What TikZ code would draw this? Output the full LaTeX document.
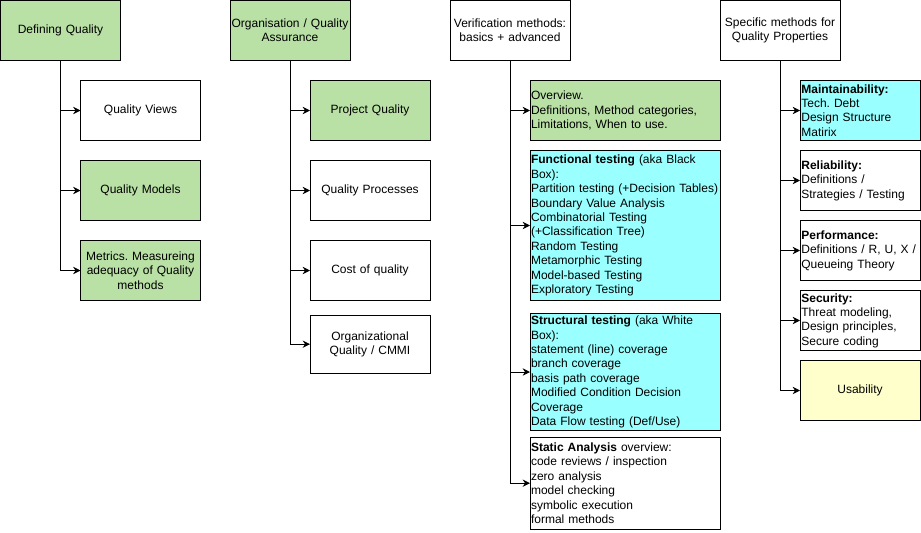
\documentclass[tikz,border=0pt]{standalone}
\usepackage{fontspec}
\setmainfont{Liberation Sans}
\usepackage{xcolor}
\usepackage{tikz}
\usetikzlibrary{arrows.meta,positioning}

\definecolor{qgreen}{HTML}{B9E0A5}
\definecolor{qcyan}{HTML}{99FFFF}
\definecolor{qyellow}{HTML}{FFFFCC}

\begin{document}
\frenchspacing
\hyphenpenalty=10000
\exhyphenpenalty=10000
\begin{tikzpicture}[x=0.75pt, y=-0.75pt,
                every node/.style={font=\fontsize{9pt}{10.8pt}\selectfont},
                box/.style={draw, line width=0.75pt, outer sep=0pt, align=center, inner xsep=1pt, inner ysep=1pt, fill=white, text width=88pt, minimum width=90pt, minimum height=45pt},
                topic/.style={box, anchor=north west},
                wide/.style={box, align=left, inner xsep=0.75pt, inner ysep=0.5pt, text width=141pt, minimum width=142.5pt},
                prop/.style={box, align=left, inner xsep=1pt, inner ysep=0.5pt, text width=88pt},
                rel/.style={-{Stealth[length=5.5pt, width=5.5pt]}, line width=0.75pt}
            ]
                \useasboundingbox (0,0) rectangle (921,532);

                % Defining Quality
                \node[topic, fill=qgreen] (defq) at (0.5,0.5) {Defining Quality};
                \node[box, below=15pt of defq, xshift=60pt] (qviews) {Quality Views};
                \node[box, fill=qgreen, below=15pt of qviews] (qmodels) {Quality Models};
                \node[box, fill=qgreen, below=15pt of qmodels] (metrics) {Metrics. Measureing\\adequacy of Quality\\methods};

                % Organisation / Quality Assurance
                \node[topic, fill=qgreen] (orgqa) at (230,0.5) {Organisation / Quality\\Assurance};
                \node[box, fill=qgreen, below=15pt of orgqa, xshift=60pt] (projq) {Project Quality};
                \node[box, below=15pt of projq] (qproc) {Quality Processes};
                \node[box, below=15pt of qproc] (costq) {Cost of quality};
                \node[box, below=11pt of costq, minimum height=43.5pt] (cmmi) {Organizational\\Quality / CMMI};

                % Verification methods
                \node[topic] (verif) at (450,0.5) {Verification methods:\\basics + advanced};
                \node[wide, fill=qgreen, below=15pt of verif, xshift=86.25pt] (overview) {Overview.\\Definitions, Method categories,\\Limitations, When to use.};
                \node[wide, fill=qcyan, below=7.5pt of overview, minimum height=112.5pt] (functest) {\textbf{Functional testing} (aka Black\\Box):\\Partition testing (+Decision Tables)\\Boundary Value Analysis\\Combinatorial Testing\\(+Classification Tree)\\Random Testing\\Metamorphic Testing\\Model-based Testing\\Exploratory Testing};
                \node[wide, fill=qcyan, below=9.75pt of functest, minimum height=87.75pt] (structest) {\textbf{Structural testing} (aka White\\Box):\\statement (line) coverage\\branch coverage\\basis path coverage\\Modified Condition Decision\\Coverage\\Data Flow testing (Def/Use)};
                \node[wide, below=5pt of structest, minimum height=69pt] (static) {\textbf{Static Analysis} overview:\\code reviews / inspection\\zero analysis\\model checking\\symbolic execution\\formal methods};

                % Specific methods for Quality Properties
                \node[topic] (specific) at (720,0.5) {Specific methods for\\Quality Properties};
                \node[prop, fill=qcyan, below=15pt of specific, xshift=60pt] (maint) {\textbf{Maintainability:}\\Tech. Debt\\Design Structure\\Matirix};
                \node[prop, below=7.5pt of maint] (reliab) {\textbf{Reliability:}\\Definitions /\\Strategies / Testing};
                \node[prop, below=7.5pt of reliab] (perf) {\textbf{Performance:}\\Definitions / R, U, X /\\Queueing Theory};
                \node[prop, below=7.5pt of perf] (secur) {\textbf{Security:}\\Threat modeling,\\Design principles,\\Secure coding};
                \node[prop, fill=qyellow, align=center, below=7.5pt of secur] (usab) {Usability};

                % Tree connectors
                \draw[rel] (defq.south) |- (qviews.west);
                \draw[rel] (defq.south) |- (qmodels.west);
                \draw[rel] (defq.south) |- (metrics.west);

                \draw[rel] (orgqa.south) |- (projq.west);
                \draw[rel] (orgqa.south) |- (qproc.west);
                \draw[rel] (orgqa.south) |- (costq.west);
                \draw[rel] (orgqa.south) |- (cmmi.west);

                \draw[rel] (verif.south) |- (overview.west);
                \draw[rel] (verif.south) |- (functest.west);
                \draw[rel] (verif.south) |- (structest.west);
                \draw[rel] (verif.south) |- (static.west);

                \draw[rel] (specific.south) |- (maint.west);
                \draw[rel] (specific.south) |- (reliab.west);
                \draw[rel] (specific.south) |- (perf.west);
                \draw[rel] (specific.south) |- (secur.west);
                \draw[rel] (specific.south) |- (usab.west);

            \end{tikzpicture}
\end{document}
